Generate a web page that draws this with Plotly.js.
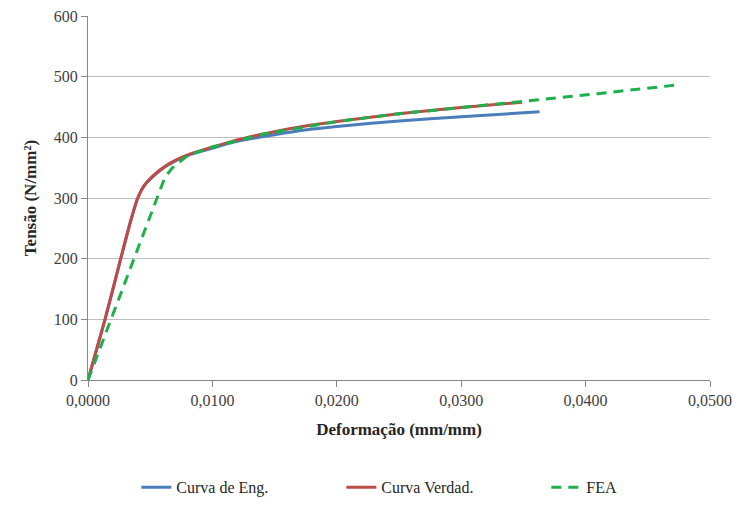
<!DOCTYPE html>
<html>
<head>
<meta charset="utf-8">
<script src="https://cdn.plot.ly/plotly-3.0.1.min.js"></script>
<style>html,body{margin:0;padding:0;background:#fff;}#chart{width:743px;height:505px;}</style>
</head>
<body>
<div id="chart"></div>
<script>
// Curva de Eng. (engineering stress-strain)
const engStrain = [0, 0.00137, 0.00263, 0.0034, 0.0040, 0.0045, 0.0052, 0.0064, 0.0080, 0.0100, 0.0115, 0.0140, 0.0170, 0.0200, 0.0250, 0.0300, 0.0363];
const engStress = [0, 100, 200, 260, 300, 320, 335, 354, 370, 382, 391, 401, 411, 418, 427, 434, 442];
// Curva Verdad. (true stress-strain)
const trueStrain = [0, 0.00137, 0.00263, 0.0034, 0.0040, 0.0045, 0.0052, 0.0064, 0.0080, 0.0100, 0.0115, 0.0140, 0.0170, 0.0200, 0.0250, 0.0300, 0.0349];
const trueStress = [0, 100, 200, 260, 300, 320, 336, 355, 371, 384, 393, 405, 417, 426, 439, 449, 458];
// FEA
const feaStrain = [0, 0.0062, 0.0068, 0.0080, 0.0100, 0.0140, 0.0200, 0.0250, 0.0300, 0.0350, 0.0410, 0.0472];
const feaStress = [0, 335, 350, 370, 384, 405, 426, 439, 449, 459, 472, 486];

const xTicks = [0, 0.01, 0.02, 0.03, 0.04, 0.05];
const yTicks = [0, 100, 200, 300, 400, 500, 600];

const serif = 'Times New Roman';

const traces = [
  {x: engStrain, y: engStress, name: 'Curva de Eng.', mode: 'lines', line: {color: '#4A7EBB', width: 3, shape: 'spline', smoothing: 0.6}},
  {x: trueStrain, y: trueStress, name: 'Curva Verdad.', mode: 'lines', line: {color: '#BE4B48', width: 3, shape: 'spline', smoothing: 0.6}},
  {x: feaStrain, y: feaStress, name: 'FEA', mode: 'lines', line: {color: '#1DB04C', width: 3, dash: '10px,7px'}}
];

const layout = {
  width: 743, height: 505,
  margin: {l: 88, r: 33, t: 16, b: 125, autoexpand: false},
  paper_bgcolor: '#fff', plot_bgcolor: '#fff',
  separators: ',.',
  font: {family: serif, size: 15, color: '#404040'},
  showlegend: true,
  legend: {orientation: 'h', xref: 'container', yref: 'container', x: 0.1835, xanchor: 'left', y: 0.035, yanchor: 'middle',
           font: {family: serif, size: 16, color: '#262626'}, entrywidth: 160, traceorder: 'normal'},
  xaxis: {
    range: [0, 0.05], tickvals: xTicks, tickformat: '.4f', automargin: false,
    showgrid: false, zeroline: false, showline: true, linecolor: '#868686', linewidth: 1,
    ticks: 'outside', ticklen: 6, tickcolor: '#868686',
    tickfont: {family: serif, size: 16, color: '#404040'},
    title: {text: '<b>Deformação (mm/mm)</b>', font: {family: serif, size: 17, color: '#262626'}, standoff: 14}
  },
  yaxis: {
    range: [0, 600], tickvals: yTicks, automargin: false,
    showgrid: true, gridcolor: '#BFBFBF', gridwidth: 1, zeroline: false,
    showline: true, linecolor: '#868686', linewidth: 1,
    ticks: 'outside', ticklen: 6, tickcolor: '#868686',
    tickfont: {family: serif, size: 16, color: '#404040'},
    title: {text: '<b>Tensão (N/mm²)</b>', font: {family: serif, size: 17, color: '#262626'}, standoff: 12}
  }
};

Plotly.newPlot('chart', traces, layout, {displayModeBar: false, staticPlot: true});
</script>
</body>
</html>
